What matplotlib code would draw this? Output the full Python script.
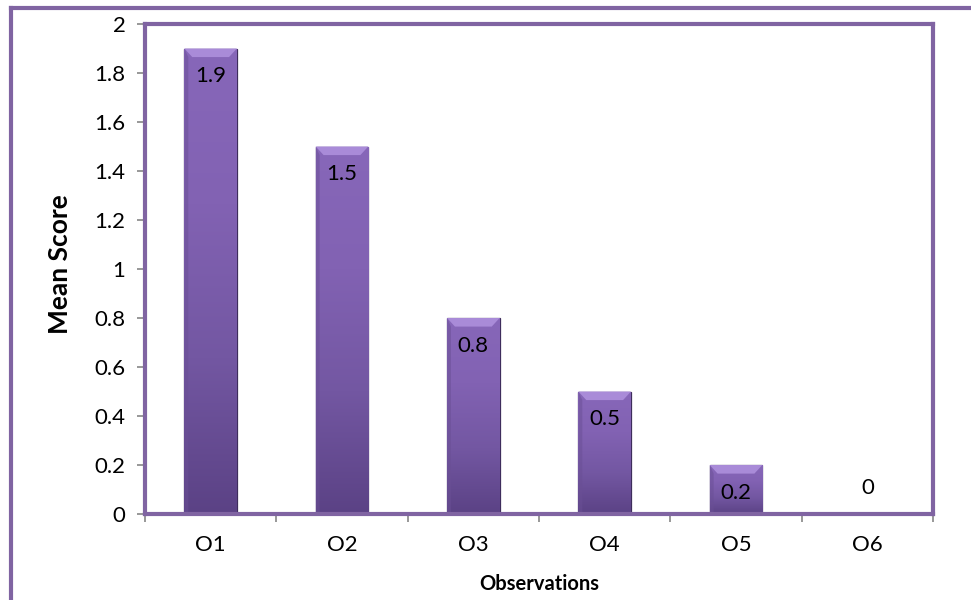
import numpy as np
import matplotlib.pyplot as plt
from matplotlib.colors import LinearSegmentedColormap
from matplotlib.patches import Polygon
from matplotlib.lines import Line2D

categories = ["O1", "O2", "O3", "O4", "O5", "O6"]
mean_scores = [1.9, 1.5, 0.8, 0.5, 0.2, 0]
y_ticks = [0, 0.2, 0.4, 0.6, 0.8, 1, 1.2, 1.4, 1.6, 1.8, 2]

PURPLE = "#8064A2"
GREY = "#868686"

plt.rcParams["font.family"] = ["Lato", "DejaVu Sans"]

fig = plt.figure(figsize=(9.71, 6.0), dpi=100)
ax = fig.add_axes([0.1493, 0.1433, 0.8116, 0.8167])

x = np.arange(len(categories))
bar_w = 0.4
bars = ax.bar(x, mean_scores, width=bar_w, color="#7d5fad",
              edgecolor="#3e2d5c", linewidth=0.9, zorder=2)

# vertical shading on each bar, lighter at the top
shade = LinearSegmentedColormap.from_list(
    "shade", ["#5b4285", "#7357a2", "#8262b3", "#8767b9"])
grad = np.linspace(0, 1, 256).reshape(-1, 1)
for rect, val in zip(bars, mean_scores):
    if val <= 0:
        continue
    x0 = rect.get_x()
    x1 = x0 + rect.get_width()
    im = ax.imshow(grad, extent=(x0, x1, 0, val), origin="lower",
                   cmap=shade, aspect="auto", zorder=2.1)
    im.set_clip_path(rect)
    # bevelled top edge
    bev_h = 0.035
    inset = 0.06
    top = Polygon([(x0, val), (x1, val), (x1 - inset, val - bev_h),
                   (x0 + inset, val - bev_h)], closed=True,
                  facecolor="#a98bd8", edgecolor="none", zorder=2.2)
    ax.add_patch(top)
    left = Polygon([(x0, val), (x0 + inset * 0.5, val - bev_h),
                    (x0 + inset * 0.5, 0), (x0, 0)], closed=True,
                   facecolor="#6a4f95", edgecolor="none", alpha=0.5,
                   zorder=2.2)
    ax.add_patch(left)
    ax.add_patch(Polygon(rect.get_verts(), closed=True, fill=False,
                         edgecolor="#3e2d5c", linewidth=0.9, zorder=2.3))

# value labels just inside the top of each bar
for xi, val in zip(x, mean_scores):
    dy = -20 if val > 0 else 19
    ax.annotate(f"{val:g}", (xi, val), xytext=(0, dy),
                textcoords="offset points", ha="center", va="center",
                fontsize=16, color="black", zorder=3)

ax.set_xlim(-0.5, len(categories) - 0.5)
ax.set_ylim(0, 2)
ax.set_yticks(y_ticks)
ax.set_yticklabels([f"{t:g}" for t in y_ticks])
ax.set_xticks(x)
ax.set_xticklabels(categories)
ax.set_xticks(np.arange(-0.5, len(categories)), minor=True)

ax.tick_params(axis="y", which="major", direction="out", length=6,
               width=1.2, color=GREY, labelsize=16, pad=8)
ax.tick_params(axis="x", which="major", length=0, labelsize=16, pad=15)
ax.tick_params(axis="x", which="minor", direction="out", length=6,
               width=1.2, color=GREY)

for side in ["left", "right", "top", "bottom"]:
    ax.spines[side].set_color(PURPLE)
    ax.spines[side].set_linewidth(3)

ax.set_ylabel("Mean Score", fontsize=19, fontweight="bold")
ax.set_xlabel("Observations", fontsize=14.5, fontweight="bold")
ax.yaxis.set_label_coords(-0.093, 0.51)
ax.xaxis.set_label_coords(0.5, -0.122)

# outer chart frame (top and left edges)
fig.add_artist(Line2D([0.0113, 1.0], [0.9867, 0.9867], color=PURPLE,
                      linewidth=3, transform=fig.transFigure))
fig.add_artist(Line2D([0.0113, 0.0113], [0.0, 0.9867], color=PURPLE,
                      linewidth=3, transform=fig.transFigure))

fig.savefig("out.png", dpi=100, facecolor="white")
